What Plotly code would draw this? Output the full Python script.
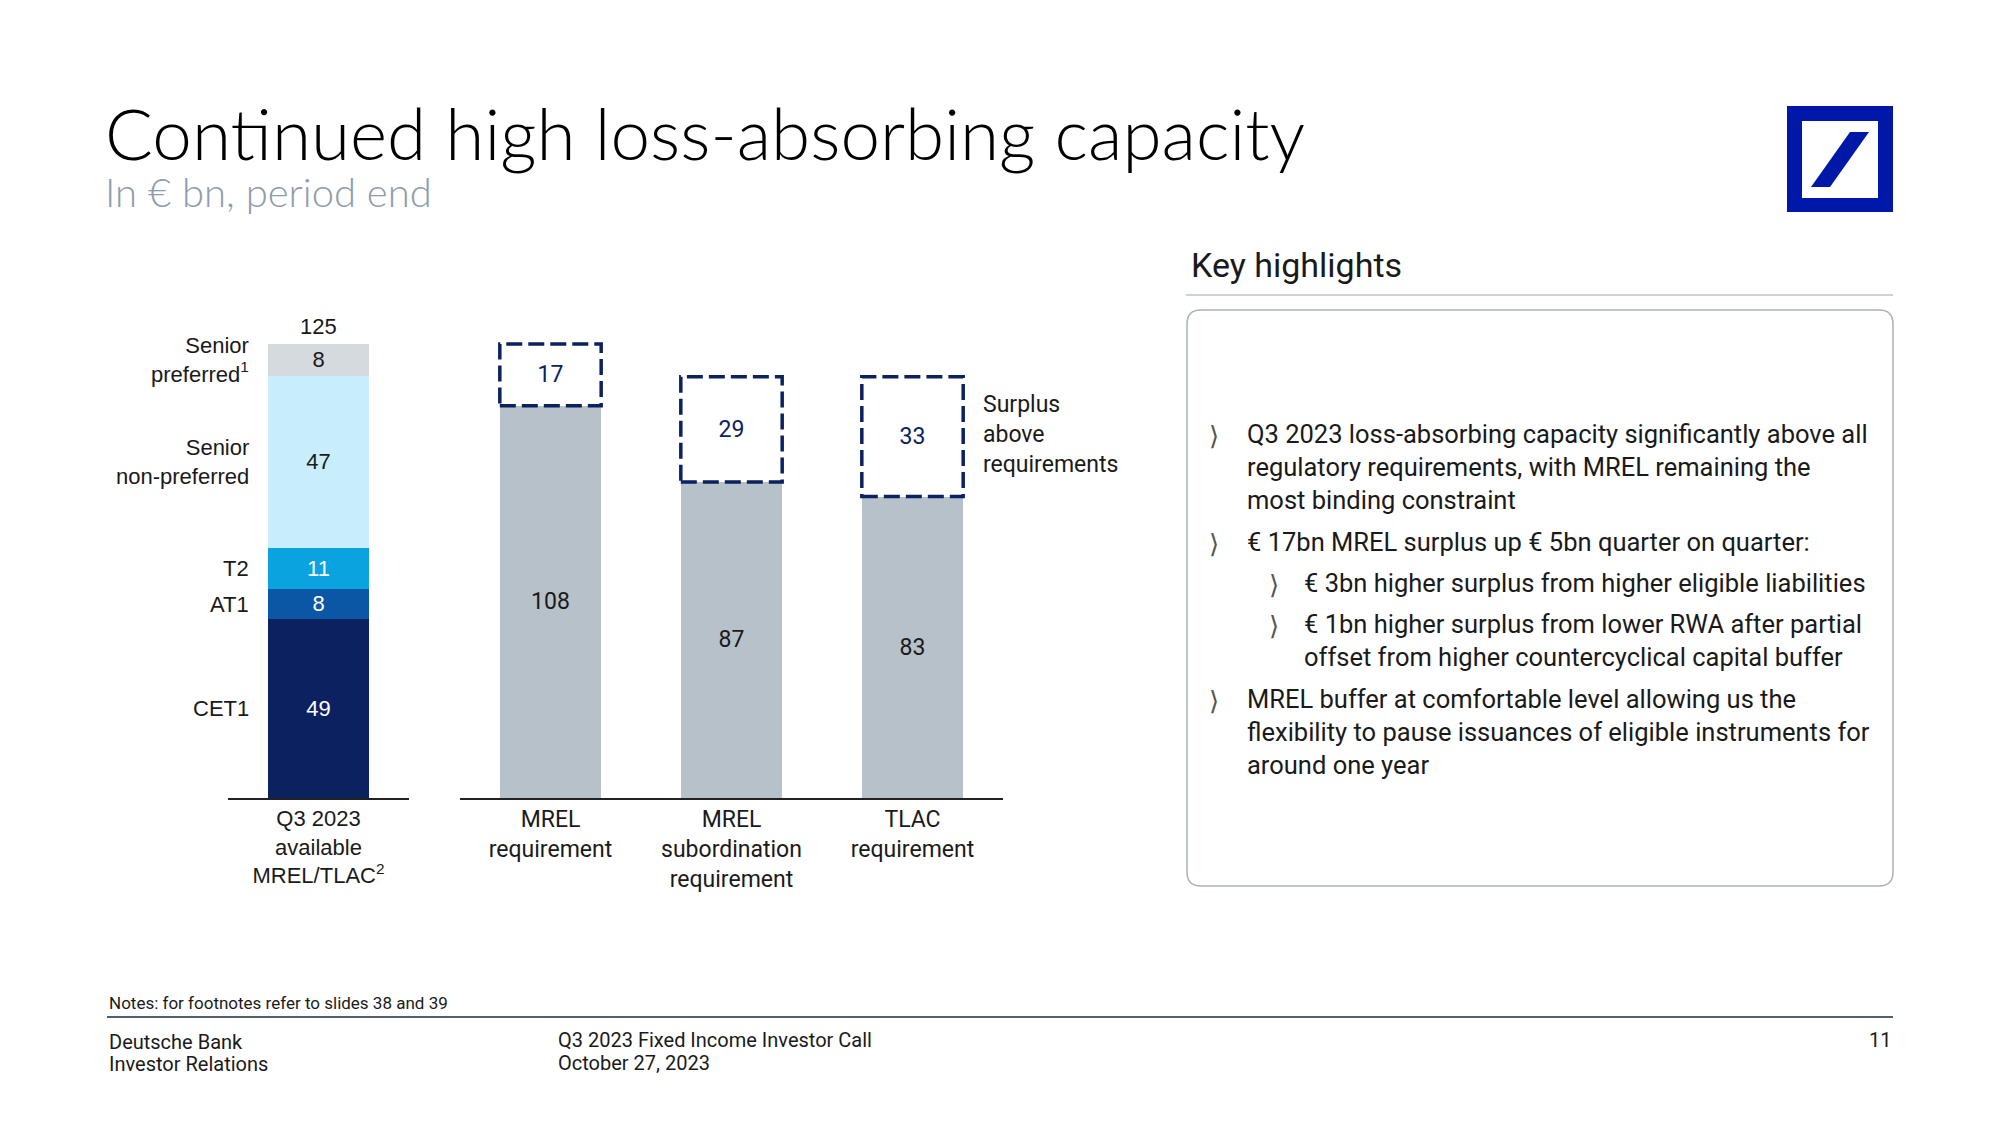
import plotly.graph_objects as go

# page has an 8px body margin; size the figure so that it fits the 2000x1125 window
OFF = 8
W, H = 2000 - 2 * OFF, 1125 - 2 * OFF
def px(x): return (x - OFF) / W
def py(y): return 1 - (y - OFF) / H

# ---------------- data ----------------
avail_cat = ["Q3 2023<br>available<br>MREL/TLAC<sup>2</sup>"]
avail_parts = ["CET1", "AT1", "T2", "Senior<br>non-preferred", "Senior<br>preferred<sup>1</sup>"]
avail_values = [49.2, 8.4, 11.2, 47.4, 8.8]      # bar heights as drawn (unrounded)
avail_labels = ["49", "8", "11", "47", "8"]       # labels as printed
avail_total = 125

req_cats = ["MREL<br>requirement", "MREL<br>subordination<br>requirement", "TLAC<br>requirement"]
req_values = [108, 87, 83]
surplus_values = [17, 29, 33]

# ---------------- style ----------------
FONT = "Roboto"
FONT2 = "Liberation Sans"
TXT = "#1a1a1a"
NAVY = "#0B2160"
part_colors = ["#0B2160", "#0C56A6", "#0AA3DF", "#C8EEFC", "#D5DADF"]
part_text_colors = ["white", "white", "white", TXT, TXT]
GRAY = "#B7C1C9"
BW = 0.56

fig = go.Figure()

for name, val, lab, col, tc in zip(avail_parts, avail_values, avail_labels, part_colors, part_text_colors):
    fig.add_trace(go.Bar(
        x=avail_cat, y=[val], name=name.replace("<br>", " "), marker=dict(color=col, line=dict(width=0)),
        width=BW, text=[lab], textposition="inside", insidetextanchor="middle",
        textangle=0, constraintext="none", textfont=dict(color=tc, size=22, family=FONT2),
        xaxis="x", yaxis="y", showlegend=False, hoverinfo="skip"))

fig.add_trace(go.Bar(
    x=req_cats, y=req_values, marker=dict(color=GRAY, line=dict(width=0)), width=BW,
    text=[str(v) for v in req_values], textposition="inside", insidetextanchor="middle",
    textangle=0, constraintext="none", textfont=dict(color=TXT, size=23, family=FONT),
    xaxis="x2", yaxis="y2", showlegend=False, hoverinfo="skip"))
fig.add_trace(go.Bar(
    x=req_cats, y=surplus_values, marker=dict(color="rgba(0,0,0,0)", line=dict(width=0)), width=BW,
    text=[str(v) for v in surplus_values], textposition="inside", insidetextanchor="middle",
    textangle=0, constraintext="none", textfont=dict(color=NAVY, size=23, family=FONT),
    xaxis="x2", yaxis="y2", showlegend=False, hoverinfo="skip"))

# dashed surplus boxes
shapes = []
for i, (r, s) in enumerate(zip(req_values, surplus_values)):
    shapes.append(dict(type="rect", xref="x2", yref="y2", x0=i - BW / 2, x1=i + BW / 2,
                       y0=r, y1=r + s, line=dict(color=NAVY, width=3.5, dash="16px,6px"),
                       fillcolor="rgba(0,0,0,0)", layer="above"))

YDOM = [py(798), py(798 - 130 * 3.632)]
axis_common = dict(showline=True, linecolor="#222", linewidth=1.5, ticks="", showgrid=False,
                   zeroline=False, fixedrange=True)
fig.update_layout(
    width=W, height=H, margin=dict(l=0, r=0, t=0, b=0),
    paper_bgcolor="white", plot_bgcolor="white", barmode="stack", bargap=0,
    font=dict(family=FONT, color=TXT),
    xaxis=dict(domain=[px(228), px(409)], anchor="y",
               tickfont=dict(size=22, color=TXT, family=FONT2), **axis_common),
    xaxis2=dict(domain=[px(460), px(1003)], anchor="y2",
                tickfont=dict(size=23, color=TXT, family=FONT), **axis_common),
    yaxis=dict(domain=YDOM, range=[0, 130], visible=False, fixedrange=True),
    yaxis2=dict(domain=YDOM, range=[0, 130], visible=False, fixedrange=True),
)

ann = []
def A(x, y, text, size, color=TXT, xanchor="left", yanchor="middle", align="left", family=FONT, weight=None):
    f = dict(size=size, color=color, family=family)
    if weight:
        f["weight"] = weight
    ann.append(dict(x=px(x), y=py(y), xref="paper", yref="paper", text=text, showarrow=False,
                    xanchor=xanchor, yanchor=yanchor, align=align, font=f))

# total label above the available bar (data-driven)
ann.append(dict(x=avail_cat[0], y=sum(avail_values), xref="x", yref="y", text=str(avail_total),
                showarrow=False, yanchor="bottom", yshift=3, font=dict(size=22, color=TXT, family=FONT2)))

# segment labels to the left of the available bar
cum = 0
for name, val in zip(avail_parts, avail_values):
    ann.append(dict(x=px(251), y=cum + val / 2, xref="paper", yref="y", text=name, showarrow=False,
                    xanchor="right", align="right", yanchor="middle",
                    font=dict(size=22, color=TXT, family=FONT2)))
    cum += val

A(981, 434, "Surplus<br>above<br>requirements", 23)

# Title / subtitle
A(103, 133, "Continued high loss-absorbing capacity", 71, color="#000", family="Lato", weight=300)
A(103, 192, "In € bn, period end", 40, color="#8E9CAB", family="Lato", weight=300)

# Key highlights
A(1189, 265, "Key highlights", 34)
shapes.append(dict(type="line", xref="paper", yref="paper", x0=px(1186), x1=px(1893),
                   y0=py(295), y1=py(295), line=dict(color="#9AA5AF", width=1)))
# rounded box
x0, x1, y0, y1, r = 1187, 1893, 310, 886, 14
def P(x, y): return f"{px(x)},{py(y)}"
path = (f"M {P(x0 + r, y0)} L {P(x1 - r, y0)} Q {P(x1, y0)} {P(x1, y0 + r)} "
        f"L {P(x1, y1 - r)} Q {P(x1, y1)} {P(x1 - r, y1)} L {P(x0 + r, y1)} "
        f"Q {P(x0, y1)} {P(x0, y1 - r)} L {P(x0, y0 + r)} Q {P(x0, y0)} {P(x0 + r, y0)} Z")
shapes.append(dict(type="path", xref="paper", yref="paper", path=path,
                   line=dict(color="#A9B3BC", width=1.5), fillcolor="rgba(0,0,0,0)"))

bullets = [
    (0, ["Q3 2023 loss-absorbing capacity significantly above all",
         "regulatory requirements, with MREL remaining the",
         "most binding constraint"], 434),
    (0, ["€ 17bn MREL surplus up € 5bn quarter on quarter:"], 542),
    (1, ["€ 3bn higher surplus from higher eligible liabilities"], 583),
    (1, ["€ 1bn higher surplus from lower RWA after partial",
         "offset from higher countercyclical capital buffer"], 624),
    (0, ["MREL buffer at comfortable level allowing us the",
         "flexibility to pause issuances of eligible instruments for",
         "around one year"], 699),
]
LH = 33
for lvl, lines, y in bullets:
    cx = 1207 if lvl == 0 else 1267
    tx = 1245 if lvl == 0 else 1302
    A(cx, y + 2, "⟩", 26, color="#555", family="DejaVu Sans")
    for k, ln in enumerate(lines):
        A(tx, y + k * LH, ln, 25.5)

# Footer
A(107, 1003, "Notes: for footnotes refer to slides 38 and 39", 17)
shapes.append(dict(type="line", xref="paper", yref="paper", x0=px(107), x1=px(1893),
                   y0=py(1017), y1=py(1017), line=dict(color="#1a2a3a", width=1.5)))
A(107, 1042, "Deutsche Bank", 20)
A(107, 1064, "Investor Relations", 20)
A(556, 1040, "Q3 2023 Fixed Income Investor Call", 20)
A(556, 1063, "October 27, 2023", 20)
A(1893, 1040, "11", 20, xanchor="right")

# Logo
BLUE = "#0018A8"
shapes.append(dict(type="rect", xref="paper", yref="paper", x0=px(1787), x1=px(1893),
                   y0=py(212), y1=py(106), fillcolor=BLUE, line=dict(width=0)))
shapes.append(dict(type="rect", xref="paper", yref="paper", x0=px(1802), x1=px(1878),
                   y0=py(198), y1=py(121), fillcolor="white", line=dict(width=0)))
shapes.append(dict(type="path", xref="paper", yref="paper",
                   path=f"M {P(1811,187)} L {P(1830,187)} L {P(1869,132)} L {P(1850,132)} Z",
                   fillcolor=BLUE, line=dict(width=0)))

fig.update_layout(annotations=ann, shapes=shapes)
fig.write_html("out.html")
